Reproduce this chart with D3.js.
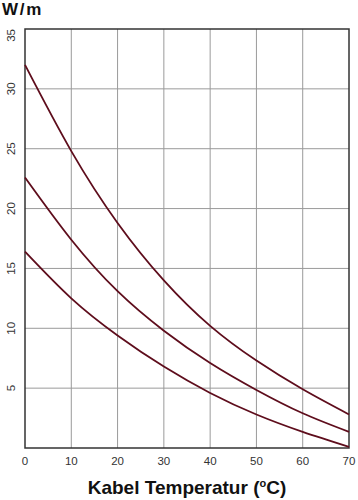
<!DOCTYPE html>
<html>
<head>
<meta charset="utf-8">
<script src="https://cdn.jsdelivr.net/npm/d3@7"></script>
<style>
  body { margin: 0; background: #fff; }
  svg { display: block; font-family: "Liberation Sans", Arial, sans-serif; }
  .grid line { stroke: #9a9a9a; stroke-width: 1; }
  .tick-label { fill: #333; font-size: 11.5px; }
</style>
</head>
<body>
<svg id="chart"></svg>
<script>
// Cable temperature (°C) vs. output (W/m), three heating cables
const temperatures = [0, 10, 20, 30, 40, 50, 60, 70];
const cableHigh   = [32.0, 24.8, 18.8, 14.0, 10.2, 7.3, 4.9, 2.8];
const cableMedium = [22.6, 17.4, 13.1, 9.8, 7.1, 4.85, 2.9, 1.35];
const cableLow    = [16.4, 12.5, 9.4, 6.8, 4.6, 2.8, 1.35, 0.1];
const xTicks = [0, 10, 20, 30, 40, 50, 60, 70];
const yTicks = [5, 10, 15, 20, 25, 30, 35];

const series = [cableHigh, cableMedium, cableLow];

const containerWidth = 358, containerHeight = 500;
const margin = {top: 29, right: 9, bottom: 52, left: 25};
const width = containerWidth - margin.left - margin.right;
const height = containerHeight - margin.top - margin.bottom;

const svg = d3.select('#chart')
    .attr('width', containerWidth)
    .attr('height', containerHeight);

const chart = svg.append('g')
    .attr('transform', `translate(${margin.left},${margin.top})`);

const xScale = d3.scaleLinear().domain([0, 70]).range([0, width]);
const yScale = d3.scaleLinear().domain([0, 35]).range([height, 0]);

// grid
const grid = chart.append('g').attr('class', 'grid');
grid.selectAll('.vx')
    .data(xTicks.slice(1, -1))
  .join('line')
    .attr('x1', d => xScale(d)).attr('x2', d => xScale(d))
    .attr('y1', 0).attr('y2', height);
grid.selectAll('.hy')
    .data(yTicks.slice(0, -1))
  .join('line')
    .attr('x1', 0).attr('x2', width)
    .attr('y1', d => yScale(d)).attr('y2', d => yScale(d));

// frame
chart.append('rect')
    .attr('width', width)
    .attr('height', height)
    .attr('fill', 'none')
    .attr('stroke', '#333')
    .attr('stroke-width', 1.5);

// curves
const line = d3.line()
    .x((d, i) => xScale(temperatures[i]))
    .y(d => yScale(d))
    .curve(d3.curveNatural);

chart.selectAll('.curve')
    .data(series)
  .join('path')
    .attr('class', 'curve')
    .attr('d', line)
    .attr('fill', 'none')
    .attr('stroke', '#5e0d1c')
    .attr('stroke-width', 1.8);

// x tick labels
chart.selectAll('.x-label')
    .data(xTicks)
  .join('text')
    .attr('class', 'tick-label')
    .attr('x', d => xScale(d))
    .attr('y', height + 17)
    .attr('text-anchor', 'middle')
    .text(d => d);

// y tick labels (rotated)
chart.selectAll('.y-label')
    .data(yTicks)
  .join('text')
    .attr('class', 'tick-label')
    .attr('text-anchor', d => d === 35 ? 'end' : 'middle')
    .attr('transform', d => `translate(-10,${yScale(d)}) rotate(-90)`)
    .text(d => d);

// titles
svg.append('text')
    .attr('x', 2)
    .attr('y', 15)
    .attr('font-size', 17)
    .attr('font-weight', 'bold')
    .attr('letter-spacing', 1.8)
    .attr('fill', '#111')
    .text('W/m');

const xTitle = svg.append('text')
    .attr('x', 187)
    .attr('y', 494)
    .attr('text-anchor', 'middle')
    .attr('font-size', 19)
    .attr('font-weight', 'bold')
    .attr('fill', '#111');
xTitle.append('tspan').text('Kabel Temperatur (');
xTitle.append('tspan').attr('font-size', 11).attr('dy', -7).text('o');
xTitle.append('tspan').attr('dy', 7).text('C)');
</script>
</body>
</html>
